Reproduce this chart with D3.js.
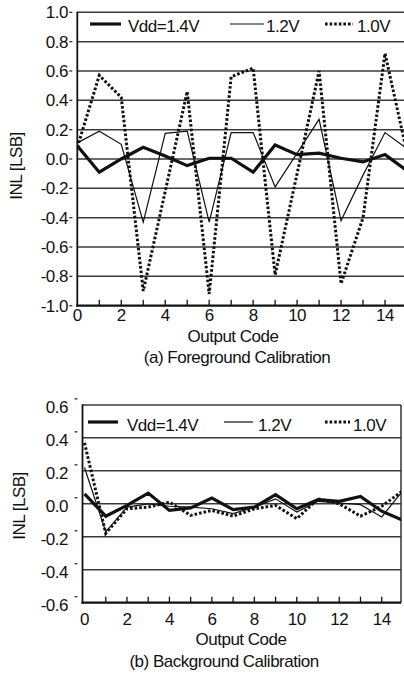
<!DOCTYPE html>
<html><head><meta charset="utf-8">
<script src="https://cdn.jsdelivr.net/npm/d3@7"></script>
<style>
html,body{margin:0;padding:0;background:#fff;}
svg{display:block;}
text{font-family:"Liberation Sans",Arial,sans-serif;font-size:17px;letter-spacing:-0.5px;fill:#111;}
</style></head>
<body>
<svg id="chart" width="404" height="680"></svg>
<script>
// ---- data ----
const codes = d3.range(0, 16);
const seriesNames = ["Vdd=1.4V", "1.2V", "1.0V"];
// (a) Foreground Calibration
const fg14 = [0.09, -0.09, 0.0, 0.08, 0.02, -0.045, 0.005, 0.005, -0.09, 0.095, 0.03, 0.04, 0.005, -0.02, 0.03, -0.08];
const fg12 = [0.11, 0.19, 0.10, -0.43, 0.175, 0.19, -0.43, 0.18, 0.18, -0.19, 0.04, 0.27, -0.42, -0.11, 0.18, 0.07];
const fg10 = [0.08, 0.57, 0.42, -0.90, -0.22, 0.46, -0.92, 0.56, 0.62, -0.79, -0.10, 0.60, -0.85, -0.40, 0.72, 0.04];
// (b) Background Calibration
const bg14 = [0.06, -0.075, -0.01, 0.065, -0.04, -0.025, 0.035, -0.035, -0.02, 0.055, -0.03, 0.025, 0.015, 0.045, -0.045, -0.10];
const bg12 = [0.22, -0.17, -0.02, 0.0, -0.015, -0.02, -0.03, -0.06, -0.02, 0.03, -0.05, 0.015, 0.005, -0.005, -0.08, 0.08];
const bg10 = [0.37, -0.18, -0.03, -0.02, 0.01, -0.07, -0.04, -0.075, -0.03, -0.01, -0.09, 0.03, 0.0, -0.075, -0.015, 0.08];
const fgYTicks = [1.0, 0.8, 0.6, 0.4, 0.2, 0.0, -0.2, -0.4, -0.6, -0.8, -1.0];
const bgYTicks = [0.6, 0.4, 0.2, 0.0, -0.2, -0.4, -0.6];
const xTickLabels = [0, 2, 4, 6, 8, 10, 12, 14];
const xTitle = "Output Code";
const yTitle = "INL [LSB]";
const captionA = "(a) Foreground Calibration";
const captionB = "(b) Background Calibration";

// ---- styles ----
const styles = [
  {w: 3.2, dash: null},
  {w: 1.2, dash: null},
  {w: 3, dash: "2.6,2"}
];

const svg = d3.select("#chart");

function drawPanel(cfg) {
  const g = svg.append("g");
  const x = d3.scaleLinear().domain([0, 15]).range(cfg.xRange);
  const y = d3.scaleLinear().domain(cfg.yDomain).range(cfg.yRange);
  const left = x(0) - cfg.axisOffset;
  const right = cfg.right;
  const top = y(cfg.yDomain[1]);
  const bottom = y(cfg.yDomain[0]);

  const clipId = "clip" + cfg.id;
  svg.append("clipPath").attr("id", clipId).append("rect")
    .attr("x", left).attr("y", top).attr("width", right - left).attr("height", bottom - top);

  // gridlines
  g.selectAll(".grid").data(cfg.yTicks.filter(v => v !== cfg.yDomain[0]))
    .enter().append("line")
    .attr("x1", left).attr("x2", right)
    .attr("y1", d => y(d)).attr("y2", d => y(d))
    .attr("stroke", "#3a3a3a").attr("stroke-width", 1.5);

  // right border
  if (cfg.rightBorder) {
    g.append("line").attr("x1", right).attr("x2", right).attr("y1", top).attr("y2", bottom)
      .attr("stroke", "#333").attr("stroke-width", 1.5);
  }

  // small y tick marks
  g.selectAll(".ytm").data(cfg.yTicks).enter().append("line")
    .attr("x1", left - 8).attr("x2", left - 5)
    .attr("y1", d => y(d) + cfg.tickShift).attr("y2", d => y(d) + cfg.tickShift)
    .attr("stroke", "#222").attr("stroke-width", 1.2);

  // y labels
  g.selectAll(".ylab").data(cfg.yTicks).enter().append("text")
    .attr("x", cfg.labelRight).attr("y", d => y(d) + cfg.labelShift)
    .attr("text-anchor", "end")
    .text(d => d.toFixed(1));

  // x axis line and ticks
  g.append("line").attr("x1", left - 1).attr("x2", right).attr("y1", bottom).attr("y2", bottom)
    .attr("stroke", "#111").attr("stroke-width", 2.2);
  g.selectAll(".xt").data(codes.filter(c => c > 0 && x(c) < right - 1)).enter().append("line")
    .attr("x1", d => x(d)).attr("x2", d => x(d))
    .attr("y1", bottom).attr("y2", bottom - 6)
    .attr("stroke", "#111").attr("stroke-width", 1.3);
  g.selectAll(".xl").data(xTickLabels).enter().append("text")
    .attr("x", d => x(d)).attr("y", cfg.xLabelBase)
    .attr("text-anchor", "middle").text(d => d);

  // left axis
  g.append("line").attr("x1", left).attr("x2", left).attr("y1", top - 0.5).attr("y2", bottom + 1)
    .attr("stroke", "#111").attr("stroke-width", 1.8);

  // series lines
  const line = d3.line().x((d, i) => x(codes[i])).y(d => y(d));
  const lg = g.append("g").attr("clip-path", `url(#${clipId})`);
  cfg.series.forEach((s, k) => {
    lg.append("path").datum(s).attr("d", line)
      .attr("fill", "none").attr("stroke", "#111")
      .attr("stroke-width", styles[k].w)
      .attr("stroke-dasharray", styles[k].dash)
      .attr("stroke-linejoin", "miter");
  });

  // legend
  const leg = cfg.legend;
  seriesNames.forEach((name, k) => {
    const it = leg.items[k];
    g.append("line").attr("x1", it.x1).attr("x2", it.x2).attr("y1", leg.lineY).attr("y2", leg.lineY)
      .attr("stroke", "#111").attr("stroke-width", styles[k].w)
      .attr("stroke-dasharray", styles[k].dash);
    g.append("text").attr("x", it.tx).attr("y", leg.textY).text(name);
  });

  // titles
  g.append("text").attr("x", cfg.xTitleX).attr("y", cfg.xTitleY).attr("text-anchor", "middle").text(xTitle);
  g.append("text").attr("x", cfg.captionX).attr("y", cfg.captionY).attr("text-anchor", "middle").text(cfg.caption);
  g.append("text").attr("transform", `translate(${cfg.yTitleX},${cfg.yTitleY}) rotate(-90)`)
    .attr("text-anchor", "middle").text(yTitle);
}

drawPanel({
  id: "a",
  xRange: [77.3, 77.3 + 15 * 21.98],
  yDomain: [-1, 1], yRange: [305.7, 12.3],
  axisOffset: 0, right: 405, rightBorder: false,
  yTicks: fgYTicks, tickShift: 0, labelShift: 6, labelRight: 68,
  xLabelBase: 321,
  series: [fg14, fg12, fg10],
  legend: {lineY: 24, textY: 31.5, items: [
    {x1: 90, x2: 121, tx: 128}, {x1: 230, x2: 264, tx: 266}, {x1: 325, x2: 353, tx: 357}]},
  xTitleX: 233, xTitleY: 342,
  captionX: 237, captionY: 363, caption: captionA,
  yTitleX: 22, yTitleY: 166
});

drawPanel({
  id: "b",
  xRange: [84.5, 84.5 + 15 * 21.23],
  yDomain: [-0.6, 0.6], yRange: [602.7, 404.9],
  axisOffset: 2, right: 401, rightBorder: true,
  yTicks: bgYTicks, tickShift: -6, labelShift: 8, labelRight: 68,
  xLabelBase: 625,
  series: [bg14, bg12, bg10],
  legend: {lineY: 422, textY: 431, items: [
    {x1: 88, x2: 118, tx: 127}, {x1: 224, x2: 253, tx: 258}, {x1: 325, x2: 350, tx: 353}]},
  xTitleX: 241, xTitleY: 645,
  captionX: 224, captionY: 667, caption: captionB,
  yTitleX: 25, yTitleY: 506
});
</script>
</body></html>
